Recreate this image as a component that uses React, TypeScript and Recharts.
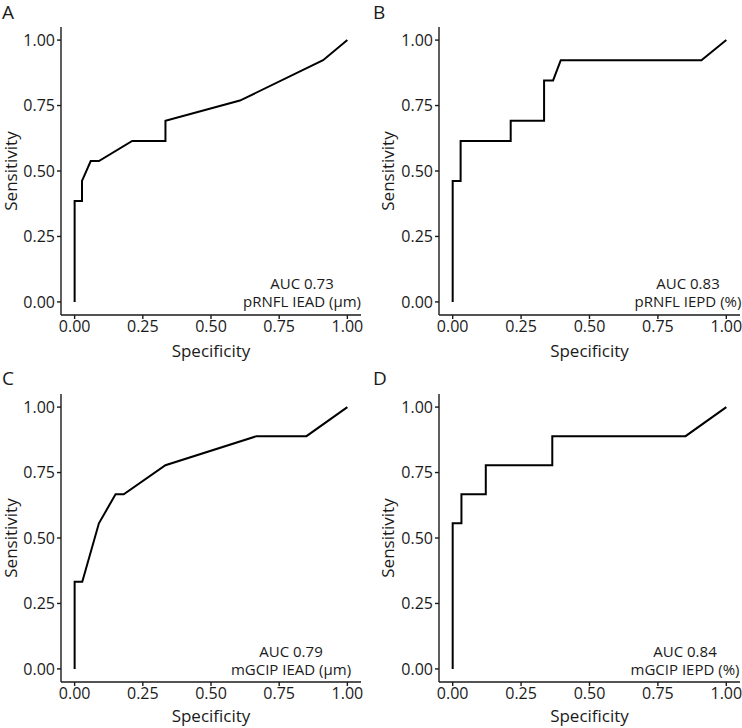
import React from "react";
import { CartesianGrid, Label, Line, LineChart, XAxis, YAxis } from "recharts";

// ROC curves (x = specificity axis, y = sensitivity)
const specA = [0, 0, 0.027, 0.027, 0.059, 0.089, 0.211, 0.333, 0.333, 0.606, 0.911, 1];
const sensA = [0, 0.385, 0.385, 0.462, 0.538, 0.538, 0.615, 0.615, 0.692, 0.769, 0.923, 1];

const specB = [0, 0, 0.029, 0.029, 0.212, 0.212, 0.334, 0.334, 0.367, 0.395, 0.909, 1];
const sensB = [0, 0.462, 0.462, 0.615, 0.615, 0.692, 0.692, 0.846, 0.846, 0.923, 0.923, 1];

const specC = [0, 0, 0.028, 0.089, 0.15, 0.18, 0.333, 0.667, 0.85, 1];
const sensC = [0, 0.333, 0.333, 0.556, 0.667, 0.667, 0.778, 0.889, 0.889, 1];

const specD = [0, 0, 0.032, 0.032, 0.121, 0.121, 0.364, 0.364, 0.851, 1];
const sensD = [0, 0.556, 0.556, 0.667, 0.667, 0.778, 0.778, 0.889, 0.889, 1];

const ticks = [0, 0.25, 0.5, 0.75, 1];
const letters = ["A", "B", "C", "D"];
const aucs = ["AUC 0.73", "AUC 0.83", "AUC 0.79", "AUC 0.84"];
const measures = ["pRNFL IEAD (µm)", "pRNFL IEPD (%)", "mGCIP IEAD (µm)", "mGCIP IEPD (%)"];

const font = "'Open Sans', sans-serif";
const ink = "#1a1a1a";

const zip = (xs: number[], ys: number[]) => xs.map((x, i) => ({ x, y: ys[i] }));

const panels = [
  { data: zip(specA, sensA), left: 0, top: 0, plotLeft: 61, right: 10, plotTop: 27, xh: 49, titleDx: -20, textX: 302, textY: 289 },
  { data: zip(specB, sensB), left: 371, top: 0, plotLeft: 68, right: 2, plotTop: 27, xh: 49, titleDx: -17, textX: 317, textY: 289 },
  { data: zip(specC, sensC), left: 0, top: 364, plotLeft: 61, right: 10, plotTop: 30, xh: 46, titleDx: -20, textX: 291, textY: 293 },
  { data: zip(specD, sensD), left: 371, top: 364, plotLeft: 68, right: 2, plotTop: 30, xh: 46, titleDx: -17, textX: 314, textY: 293 },
];

const fmt = (v: number) => v.toFixed(2);

function RocPanel({ idx }: { idx: number }) {
  const p = panels[idx];
  return (
    <div style={{ position: "absolute", left: p.left, top: p.top }}>
      <LineChart
        width={371}
        height={364}
        data={p.data}
        margin={{ top: p.plotTop, right: p.right, left: 0, bottom: 0 }}
      >
        <CartesianGrid stroke="none" />
        <XAxis
          type="number"
          dataKey="x"
          domain={[-0.05, 1.05]}
          ticks={ticks}
          tickFormatter={fmt}
          allowDataOverflow
          height={p.xh}
          tickSize={4}
          stroke={ink}
          strokeWidth={1.4}
          tick={{ fill: ink, fontSize: 16, fontFamily: font }}
        >
          <Label value="Specificity" position="center" dy={11} fill={ink} fontSize={17} fontFamily={font} />
        </XAxis>
        <YAxis
          type="number"
          dataKey="y"
          domain={[-0.05, 1.05]}
          ticks={ticks}
          tickFormatter={fmt}
          allowDataOverflow
          width={p.plotLeft}
          tickSize={4}
          stroke={ink}
          strokeWidth={1.4}
          tick={{ fill: ink, fontSize: 16, fontFamily: font }}
        >
          <Label
            value="Sensitivity"
            position="center"
            angle={-90}
            dx={p.titleDx}
            fill={ink}
            fontSize={17}
            fontFamily={font}
          />
        </YAxis>
        <Line
          type="linear"
          dataKey="y"
          stroke="#000"
          strokeWidth={2}
          dot={false}
          isAnimationActive={false}
        />
        <text x={2} y={idx < 2 ? 19 : 21} fontSize={19} fontFamily={font} fill={ink}>
          {letters[idx]}
        </text>
        <text textAnchor="middle" fontSize={15} fontFamily={font} fill={ink}>
          <tspan x={p.textX} y={p.textY}>{aucs[idx]}</tspan>
          <tspan x={p.textX} y={p.textY + 18}>{measures[idx]}</tspan>
        </text>
      </LineChart>
    </div>
  );
}

export default function App() {
  return (
    <div style={{ position: "absolute", left: 0, top: 0, width: 742, height: 728, background: "#fff" }}>
      {panels.map((_, i) => (
        <RocPanel key={i} idx={i} />
      ))}
    </div>
  );
}
